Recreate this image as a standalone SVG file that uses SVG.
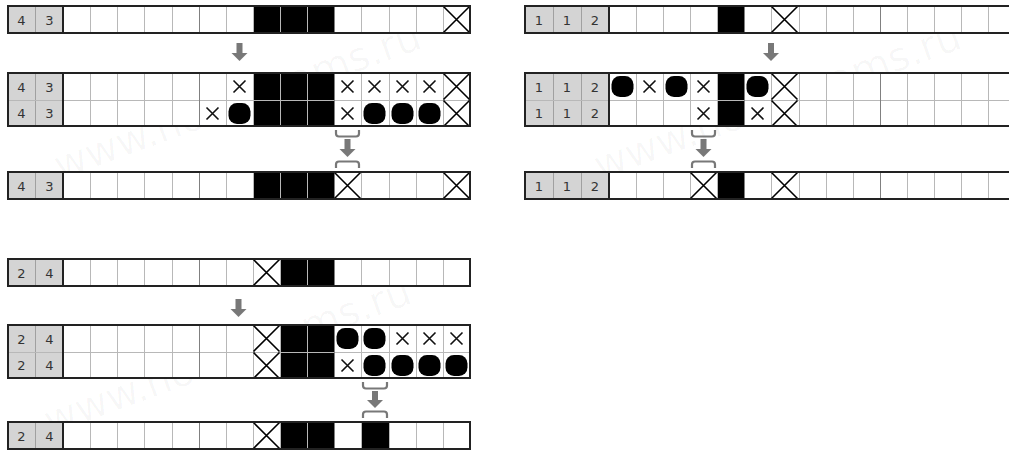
<svg xmlns="http://www.w3.org/2000/svg" xmlns:xlink="http://www.w3.org/1999/xlink" width="1009" height="452" viewBox="0 0 1009 452">
<style>
.bg{fill:#fff}
.clue{fill:#d4d4d4}
.blk{fill:#000}
.lt{fill:none;stroke:#b8b8b8;stroke-width:1}
.dk{fill:none;stroke:#808080;stroke-width:1}
.cs{fill:none;stroke:#a0a0a0;stroke-width:1}
.bd{fill:none;stroke:#222;stroke-width:2}
.num{font-family:"DejaVu Sans",Verdana,sans-serif;font-size:13px;fill:#333;text-anchor:middle}
.conn{fill:#787878}
.br{fill:none;stroke:#787878;stroke-width:2.2}
.wm{font-family:"DejaVu Sans",Verdana,sans-serif;font-size:40px;fill:#000;fill-opacity:0.03}
</style>
<defs>
<path id="bx" d="M0.5,0.5 L26.5,26.5 M26.5,0.5 L0.5,26.5" fill="none" stroke="#000" stroke-width="1.6"/>
<path id="sx" d="M7.5,7.5 L19.5,19.5 M19.5,7.5 L7.5,19.5" fill="none" stroke="#111" stroke-width="1.6"/>
<rect id="dot" x="2.5" y="3" width="22" height="21" rx="8.5" fill="#000"/>
</defs>
<rect width="1009" height="452" fill="#fff"/>
<g id="watermark">
<text class="wm" transform="translate(60,180) rotate(-20)">www.nonograms.ru</text>
<text class="wm" transform="translate(600,180) rotate(-20)">www.nonograms.ru</text>
<text class="wm" transform="translate(50,435) rotate(-20)">www.nonograms.ru</text>
</g>

<!-- Puzzle 1: 4 3 -->
<g id="p1-initial">
<rect class="clue" x="8" y="6" width="55" height="27"/>
<rect class="bg" x="63" y="6" width="407" height="27"/>
<rect class="blk" x="253" y="6" width="81" height="27"/>
<path class="cs" d="M35.5,6v27"/>
<path class="lt" d="M90.5,6v27M117.5,6v27M144.5,6v27M172.5,6v27M226.5,6v27M253.5,6v27M280.5,6v27M307.5,6v27M361.5,6v27M389.5,6v27M416.5,6v27M443.5,6v27"/>
<path class="dk" d="M199.5,6v27M334.5,6v27"/>
<use href="#bx" x="443" y="6"/>
<text class="num" x="21.5" y="24.5">4</text>
<text class="num" x="49.5" y="24.5">3</text>
<rect class="bd" x="8" y="6" width="462" height="27"/>
<path class="bd" d="M63,6v27"/>
</g>

<g id="p1-lines">
<rect class="clue" x="8" y="73" width="55" height="53"/>
<rect class="bg" x="63" y="73" width="407" height="53"/>
<rect class="blk" x="253" y="73" width="81" height="53"/>
<path class="cs" d="M35.5,73v53"/>
<path class="lt" d="M90.5,73v53M117.5,73v53M144.5,73v53M172.5,73v53M226.5,73v53M253.5,73v53M280.5,73v53M307.5,73v53M361.5,73v53M389.5,73v53M416.5,73v53M443.5,73v53M8,100.5h462"/>
<path class="dk" d="M199.5,73v53M334.5,73v53"/>
<use href="#sx" x="226" y="73"/>
<use href="#sx" x="334" y="73"/>
<use href="#sx" x="361" y="73"/>
<use href="#sx" x="389" y="73"/>
<use href="#sx" x="416" y="73"/>
<use href="#bx" x="443" y="73"/>
<use href="#sx" x="199" y="100"/>
<use href="#dot" x="226" y="100"/>
<use href="#sx" x="334" y="100"/>
<use href="#dot" x="361" y="100"/>
<use href="#dot" x="389" y="100"/>
<use href="#dot" x="416" y="100"/>
<use href="#bx" x="443" y="100"/>
<text class="num" x="21.5" y="91.5">4</text>
<text class="num" x="49.5" y="91.5">3</text>
<text class="num" x="21.5" y="118">4</text>
<text class="num" x="49.5" y="118">3</text>
<rect class="bd" x="8" y="73" width="462" height="53"/>
<path class="bd" d="M63,73v53"/>
</g>

<g id="p1-result">
<rect class="clue" x="8" y="172" width="55" height="27"/>
<rect class="bg" x="63" y="172" width="407" height="27"/>
<rect class="blk" x="253" y="172" width="81" height="27"/>
<path class="cs" d="M35.5,172v27"/>
<path class="lt" d="M90.5,172v27M117.5,172v27M144.5,172v27M172.5,172v27M226.5,172v27M253.5,172v27M280.5,172v27M307.5,172v27M361.5,172v27M389.5,172v27M416.5,172v27M443.5,172v27"/>
<path class="dk" d="M199.5,172v27M334.5,172v27"/>
<use href="#bx" x="334" y="172"/>
<use href="#bx" x="443" y="172"/>
<text class="num" x="21.5" y="190.5">4</text>
<text class="num" x="49.5" y="190.5">3</text>
<rect class="bd" x="8" y="172" width="462" height="27"/>
<path class="bd" d="M63,172v27"/>
</g>

<!-- Puzzle 2: 1 1 2 -->
<g id="p2-initial">
<rect class="clue" x="525" y="6" width="84" height="27"/>
<rect class="bg" x="609" y="6" width="407" height="27"/>
<rect class="blk" x="717" y="6" width="27" height="27"/>
<path class="cs" d="M553.5,6v27M581.5,6v27"/>
<path class="lt" d="M636.5,6v27M663.5,6v27M690.5,6v27M717.5,6v27M771.5,6v27M799.5,6v27M826.5,6v27M853.5,6v27M907.5,6v27M934.5,6v27M961.5,6v27M988.5,6v27"/>
<path class="dk" d="M744.5,6v27M880.5,6v27"/>
<use href="#bx" x="771" y="6"/>
<text class="num" x="539" y="24.5">1</text>
<text class="num" x="567" y="24.5">1</text>
<text class="num" x="595" y="24.5">2</text>
<rect class="bd" x="525" y="6" width="491" height="27"/>
<path class="bd" d="M609,6v27"/>
</g>

<g id="p2-lines">
<rect class="clue" x="525" y="73" width="84" height="53"/>
<rect class="bg" x="609" y="73" width="407" height="53"/>
<rect class="blk" x="717" y="73" width="27" height="53"/>
<path class="cs" d="M553.5,73v53M581.5,73v53"/>
<path class="lt" d="M636.5,73v53M663.5,73v53M690.5,73v53M717.5,73v53M771.5,73v53M799.5,73v53M826.5,73v53M853.5,73v53M907.5,73v53M934.5,73v53M961.5,73v53M988.5,73v53M525,100.5h491"/>
<path class="dk" d="M744.5,73v53M880.5,73v53"/>
<use href="#dot" x="609" y="73"/>
<use href="#sx" x="636" y="73"/>
<use href="#dot" x="663" y="73"/>
<use href="#sx" x="690" y="73"/>
<use href="#dot" x="744" y="73"/>
<use href="#bx" x="771" y="73"/>
<use href="#sx" x="690" y="100"/>
<use href="#sx" x="744" y="100"/>
<use href="#bx" x="771" y="100"/>
<text class="num" x="539" y="91.5">1</text>
<text class="num" x="567" y="91.5">1</text>
<text class="num" x="595" y="91.5">2</text>
<text class="num" x="539" y="118">1</text>
<text class="num" x="567" y="118">1</text>
<text class="num" x="595" y="118">2</text>
<rect class="bd" x="525" y="73" width="491" height="53"/>
<path class="bd" d="M609,73v53"/>
</g>

<g id="p2-result">
<rect class="clue" x="525" y="172" width="84" height="27"/>
<rect class="bg" x="609" y="172" width="407" height="27"/>
<rect class="blk" x="717" y="172" width="27" height="27"/>
<path class="cs" d="M553.5,172v27M581.5,172v27"/>
<path class="lt" d="M636.5,172v27M663.5,172v27M690.5,172v27M717.5,172v27M771.5,172v27M799.5,172v27M826.5,172v27M853.5,172v27M907.5,172v27M934.5,172v27M961.5,172v27M988.5,172v27"/>
<path class="dk" d="M744.5,172v27M880.5,172v27"/>
<use href="#bx" x="690" y="172"/>
<use href="#bx" x="771" y="172"/>
<text class="num" x="539" y="190.5">1</text>
<text class="num" x="567" y="190.5">1</text>
<text class="num" x="595" y="190.5">2</text>
<rect class="bd" x="525" y="172" width="491" height="27"/>
<path class="bd" d="M609,172v27"/>
</g>

<!-- Puzzle 3: 2 4 -->
<g id="p3-initial">
<rect class="clue" x="8" y="259" width="55" height="27"/>
<rect class="bg" x="63" y="259" width="407" height="27"/>
<rect class="blk" x="280" y="259" width="54" height="27"/>
<path class="cs" d="M35.5,259v27"/>
<path class="lt" d="M90.5,259v27M117.5,259v27M144.5,259v27M172.5,259v27M226.5,259v27M253.5,259v27M280.5,259v27M307.5,259v27M361.5,259v27M389.5,259v27M416.5,259v27M443.5,259v27"/>
<path class="dk" d="M199.5,259v27M334.5,259v27"/>
<use href="#bx" x="253" y="259"/>
<text class="num" x="21.5" y="277.5">2</text>
<text class="num" x="49.5" y="277.5">4</text>
<rect class="bd" x="8" y="259" width="462" height="27"/>
<path class="bd" d="M63,259v27"/>
</g>

<g id="p3-lines">
<rect class="clue" x="8" y="325" width="55" height="53"/>
<rect class="bg" x="63" y="325" width="407" height="53"/>
<rect class="blk" x="280" y="325" width="54" height="53"/>
<path class="cs" d="M35.5,325v53"/>
<path class="lt" d="M90.5,325v53M117.5,325v53M144.5,325v53M172.5,325v53M226.5,325v53M253.5,325v53M280.5,325v53M307.5,325v53M361.5,325v53M389.5,325v53M416.5,325v53M443.5,325v53M8,352.5h462"/>
<path class="dk" d="M199.5,325v53M334.5,325v53"/>
<use href="#bx" x="253" y="325"/>
<use href="#dot" x="334" y="325"/>
<use href="#dot" x="361" y="325"/>
<use href="#sx" x="389" y="325"/>
<use href="#sx" x="416" y="325"/>
<use href="#sx" x="443" y="325"/>
<use href="#bx" x="253" y="352"/>
<use href="#sx" x="334" y="352"/>
<use href="#dot" x="361" y="352"/>
<use href="#dot" x="389" y="352"/>
<use href="#dot" x="416" y="352"/>
<use href="#dot" x="443" y="352"/>
<text class="num" x="21.5" y="343.5">2</text>
<text class="num" x="49.5" y="343.5">4</text>
<text class="num" x="21.5" y="370">2</text>
<text class="num" x="49.5" y="370">4</text>
<rect class="bd" x="8" y="325" width="462" height="53"/>
<path class="bd" d="M63,325v53"/>
</g>

<g id="p3-result">
<rect class="clue" x="8" y="422" width="55" height="27"/>
<rect class="bg" x="63" y="422" width="407" height="27"/>
<rect class="blk" x="280" y="422" width="54" height="27"/>
<rect class="blk" x="361" y="422" width="28" height="27"/>
<path class="cs" d="M35.5,422v27"/>
<path class="lt" d="M90.5,422v27M117.5,422v27M144.5,422v27M172.5,422v27M226.5,422v27M253.5,422v27M280.5,422v27M307.5,422v27M361.5,422v27M389.5,422v27M416.5,422v27M443.5,422v27"/>
<path class="dk" d="M199.5,422v27M334.5,422v27"/>
<use href="#bx" x="253" y="422"/>
<text class="num" x="21.5" y="440.5">2</text>
<text class="num" x="49.5" y="440.5">4</text>
<rect class="bd" x="8" y="422" width="462" height="27"/>
<path class="bd" d="M63,422v27"/>
</g>

<g id="connectors">
<path class="conn" d="M236.5,43h6v10h5l-8,8l-8,-8h5z"/>
<path class="conn" d="M768,43h6v10h5l-8,8l-8,-8h5z"/>
<path class="conn" d="M235.5,299h6v10h5l-8,8l-8,-8h5z"/>
<path class="br" d="M336,130v3.5q0,3 3,3h17q3,0 3,-3v-3.5"/>
<path class="conn" d="M344.5,139h6v10h5l-8,8l-8,-8h5z"/>
<path class="br" d="M336,168v-3.5q0,-3 3,-3h17q3,0 3,3v3.5"/>
<path class="br" d="M692,130v3.5q0,3 3,3h17q3,0 3,-3v-3.5"/>
<path class="conn" d="M700.5,139h6v10h5l-8,8l-8,-8h5z"/>
<path class="br" d="M692,168v-3.5q0,-3 3,-3h17q3,0 3,3v3.5"/>
<path class="br" d="M363,382v3.5q0,3 3,3h18q3,0 3,-3v-3.5"/>
<path class="conn" d="M372,391h6v9h5l-8,8l-8,-8h5z"/>
<path class="br" d="M363,418v-3.5q0,-3 3,-3h18q3,0 3,3v3.5"/>
</g>
</svg>
